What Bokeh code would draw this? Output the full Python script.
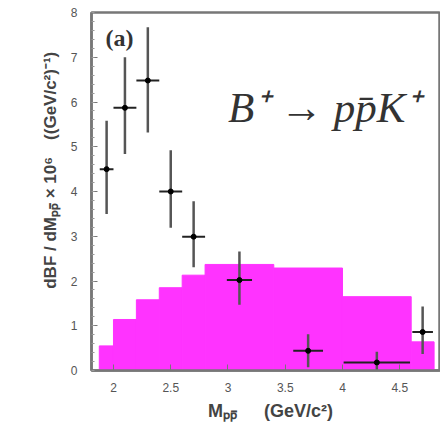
import math
from bokeh.plotting import figure
from bokeh.models import Range1d, Label, FixedTicker
from bokeh.embed import file_html
from bokeh.resources import INLINE

# Histogram (phase-space MC, magenta)
hist_left = [1.876, 2.0, 2.2, 2.4, 2.6, 2.8, 3.4, 4.0, 4.6]
hist_right = [2.0, 2.2, 2.4, 2.6, 2.8, 3.4, 4.0, 4.6, 4.8]
hist_val = [0.55, 1.14, 1.58, 1.85, 2.13, 2.37, 2.29, 1.65, 0.64]

# Data points
pt_x = [1.94, 2.1, 2.3, 2.5, 2.7, 3.1, 3.7, 4.3, 4.7]
pt_xerr = [0.06, 0.1, 0.1, 0.1, 0.1, 0.11, 0.13, 0.29, 0.09]
pt_y = [4.5, 5.87, 6.48, 4.0, 2.99, 2.02, 0.44, 0.18, 0.86]
pt_yerr_lo = [1.0, 1.03, 1.16, 0.81, 0.68, 0.55, 0.37, 0.18, 0.49]
pt_yerr_hi = [1.08, 1.13, 1.19, 0.92, 0.79, 0.64, 0.37, 0.24, 0.57]

x_ticks = [2, 2.5, 3, 3.5, 4, 4.5]
x_tick_labels = {2: "2", 2.5: "2.5", 3: "3", 3.5: "3.5", 4: "4", 4.5: "4.5"}
y_ticks = [0, 1, 2, 3, 4, 5, 6, 7, 8]

p = figure(width=440, height=423, output_backend="svg", toolbar_location=None,
           x_range=Range1d(1.808, 4.856), y_range=Range1d(0, 8.0),
           min_border_left=91, min_border_right=0, min_border_top=12, min_border_bottom=46)
p.grid.visible = False
p.outline_line_color = "#777777"
p.outline_line_width = 2.5
p.background_fill_color = "white"
p.border_fill_color = "white"

p.quad(left=hist_left, right=hist_right, bottom=0, top=hist_val,
       fill_color="#FF33FF", line_color="#FF33FF", line_width=1)

vy0 = [y - lo for y, lo in zip(pt_y, pt_yerr_lo)]
vy1 = [y + hi for y, hi in zip(pt_y, pt_yerr_hi)]
p.segment(x0=pt_x, y0=vy0, x1=pt_x, y1=vy1, line_color="#555555", line_width=2.5)
hx0 = [x - e for x, e in zip(pt_x, pt_xerr)]
hx1 = [x + e for x, e in zip(pt_x, pt_xerr)]
p.segment(x0=hx0, y0=pt_y, x1=hx1, y1=pt_y, line_color="#222222", line_width=2)
p.scatter(pt_x, pt_y, size=5, color="black")

# axes
p.xaxis.ticker = FixedTicker(ticks=x_ticks, minor_ticks=[])
p.xaxis.major_label_overrides = x_tick_labels
p.yaxis.ticker = FixedTicker(ticks=y_ticks, minor_ticks=[i * 0.2 for i in range(41)])
for ax in (p.xaxis[0], p.yaxis[0]):
    ax.axis_line_color = "#777777"
    ax.axis_line_width = 2.5
    ax.major_tick_in = 6
    ax.major_tick_out = 0
    ax.minor_tick_in = 3
    ax.minor_tick_out = 0
    ax.major_tick_line_color = "#777777"
    ax.minor_tick_line_color = "#999999"
    ax.major_label_text_font = "Liberation Sans"
    ax.major_label_text_font_size = "12px"
    ax.major_label_text_color = "#555555"
    ax.axis_label_text_font = "Liberation Sans"
    ax.axis_label_text_font_style = "bold"
    ax.axis_label_text_color = "#444444"
p.xaxis.major_label_standoff = 12
p.yaxis.major_label_standoff = 14

p.xaxis.axis_label = "\u2002Mₚₚ̄" + "\u2002" * 3 + "(GeV/c²)"
p.xaxis.axis_label_text_font_size = "18px"
p.xaxis.axis_label_standoff = 6

p.yaxis.axis_label = "\u2002" * 5 + "dBF / dMₚₚ̄ × 10⁶" + "\u2002" * 2 + "((GeV/c²)⁻¹)"
p.yaxis.axis_label_text_font_size = "17px"
p.yaxis.axis_label_standoff = 8

lab_a = Label(x=1.93, y=7.43, text="(a)", text_font="Liberation Serif",
              text_font_style="bold", text_font_size="24px", text_color="#333333",
              text_baseline="middle", text_align="left")
p.add_layout(lab_a)

lab_t = Label(x=3.0, y=5.87, text="B⁺ → pp̄K⁺", text_font="Liberation Serif",
              text_font_style="italic", text_font_size="43px", text_color="#333333",
              text_baseline="middle", text_align="left")
p.add_layout(lab_t)

open("out.html", "w").write(file_html(p, INLINE))
